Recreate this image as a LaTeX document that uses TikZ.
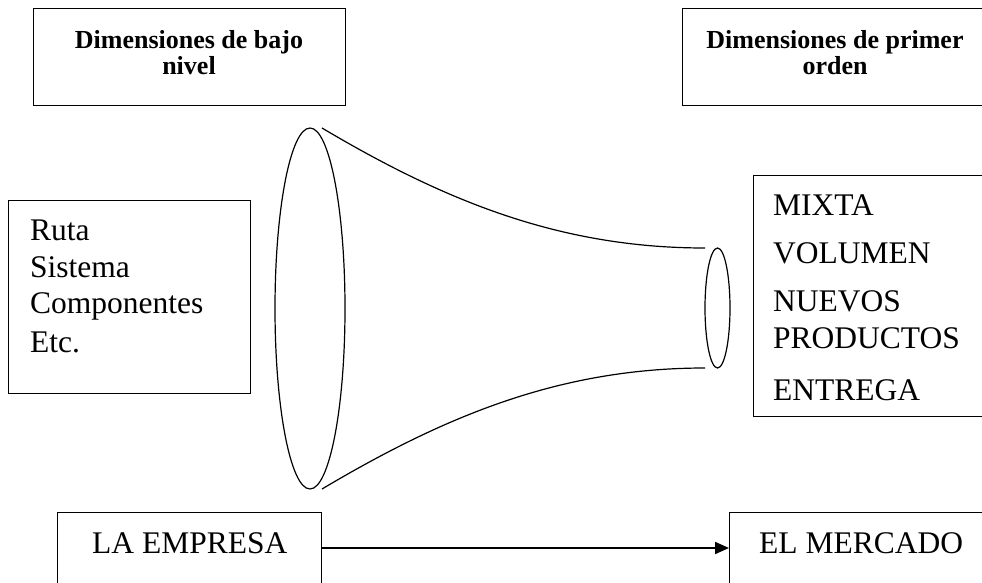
\documentclass[tikz,border=0pt]{standalone}
\usepackage{fontspec}
\setmainfont{Liberation Serif}
\usetikzlibrary{shapes.geometric,arrows.meta}
\begin{document}
\begin{tikzpicture}[x=1pt,y=-1pt,
  frame/.style={draw,line width=1.1pt,inner sep=0pt,anchor=north west},
  titletext/.style={font=\fontsize{26}{30}\selectfont\bfseries,inner sep=0pt,anchor=base},
  bodytext/.style={font=\fontsize{31.5}{37}\selectfont,inner sep=0pt,anchor=base west},
  funnel/.style={draw,line width=1.2pt},
  rim/.style={ellipse,draw,line width=1.2pt,inner sep=0pt},
  flow/.style={line width=1.8pt,-{Triangle[length=14pt,width=12pt]}}]
\useasboundingbox (0,0) rectangle (982,583);
\clip (0,0) rectangle (982,583);
\fill[white] (0,0) rectangle (982,583);
% top boxes
\node[frame,minimum width=312pt,minimum height=97pt] (lowbox) at (33,8) {};
\node[titletext] (low1) at (189,49) {Dimensiones de bajo};
\node[titletext] (low2) at (189,75) {nivel};
\node[frame,minimum width=320pt,minimum height=97pt] (firstbox) at (682,8) {};
\node[titletext] (first1) at (835,49) {Dimensiones de primer};
\node[titletext] (first2) at (835,75) {orden};
% left box
\node[frame,minimum width=242pt,minimum height=193pt] (leftbox) at (8,200) {};
\node[bodytext] (l1) at (30,240) {Ruta};
\node[bodytext] (l2) at (30,277) {Sistema};
\node[bodytext] (l3) at (30,313) {Componentes};
\node[bodytext] (l4) at (30,352) {Etc.};
% right box
\node[frame,minimum width=260pt,minimum height=241pt] (rightbox) at (753,175) {};
\node[bodytext] (r1) at (773,215) {MIXTA};
\node[bodytext] (r2) at (773,263) {VOLUMEN};
\node[bodytext] (r3) at (773,311) {NUEVOS};
\node[bodytext] (r4) at (773,348) {PRODUCTOS};
\node[bodytext] (r5) at (773,400) {ENTREGA};
% funnel
\node[rim,minimum width=70pt,minimum height=361pt] (bigrim) at (310,308.5) {};
\node[rim,minimum width=25pt,minimum height=120pt] (smallrim) at (717.5,308) {};
\coordinate (ta) at (322,128);
\coordinate (tb) at (705,248);
\coordinate (ba) at (322,489);
\coordinate (bb) at (705,368);
\draw[funnel] (ta) .. controls (445,201) and (560,248) .. (tb);
\draw[funnel] (ba) .. controls (445,416) and (560,368) .. (bb);
% bottom boxes
\node[frame,minimum width=264pt,minimum height=100pt] (empresa) at (57,512) {};
\node[bodytext] (emptext) at (92,553) {LA EMPRESA};
\node[frame,minimum width=280pt,minimum height=100pt] (mercado) at (729,512) {};
\node[bodytext] (merctext) at (759,553) {EL MERCADO};
\draw[flow] (empresa.east |- 0,548) -- (mercado.west |- 0,548);
\end{tikzpicture}
\end{document}
